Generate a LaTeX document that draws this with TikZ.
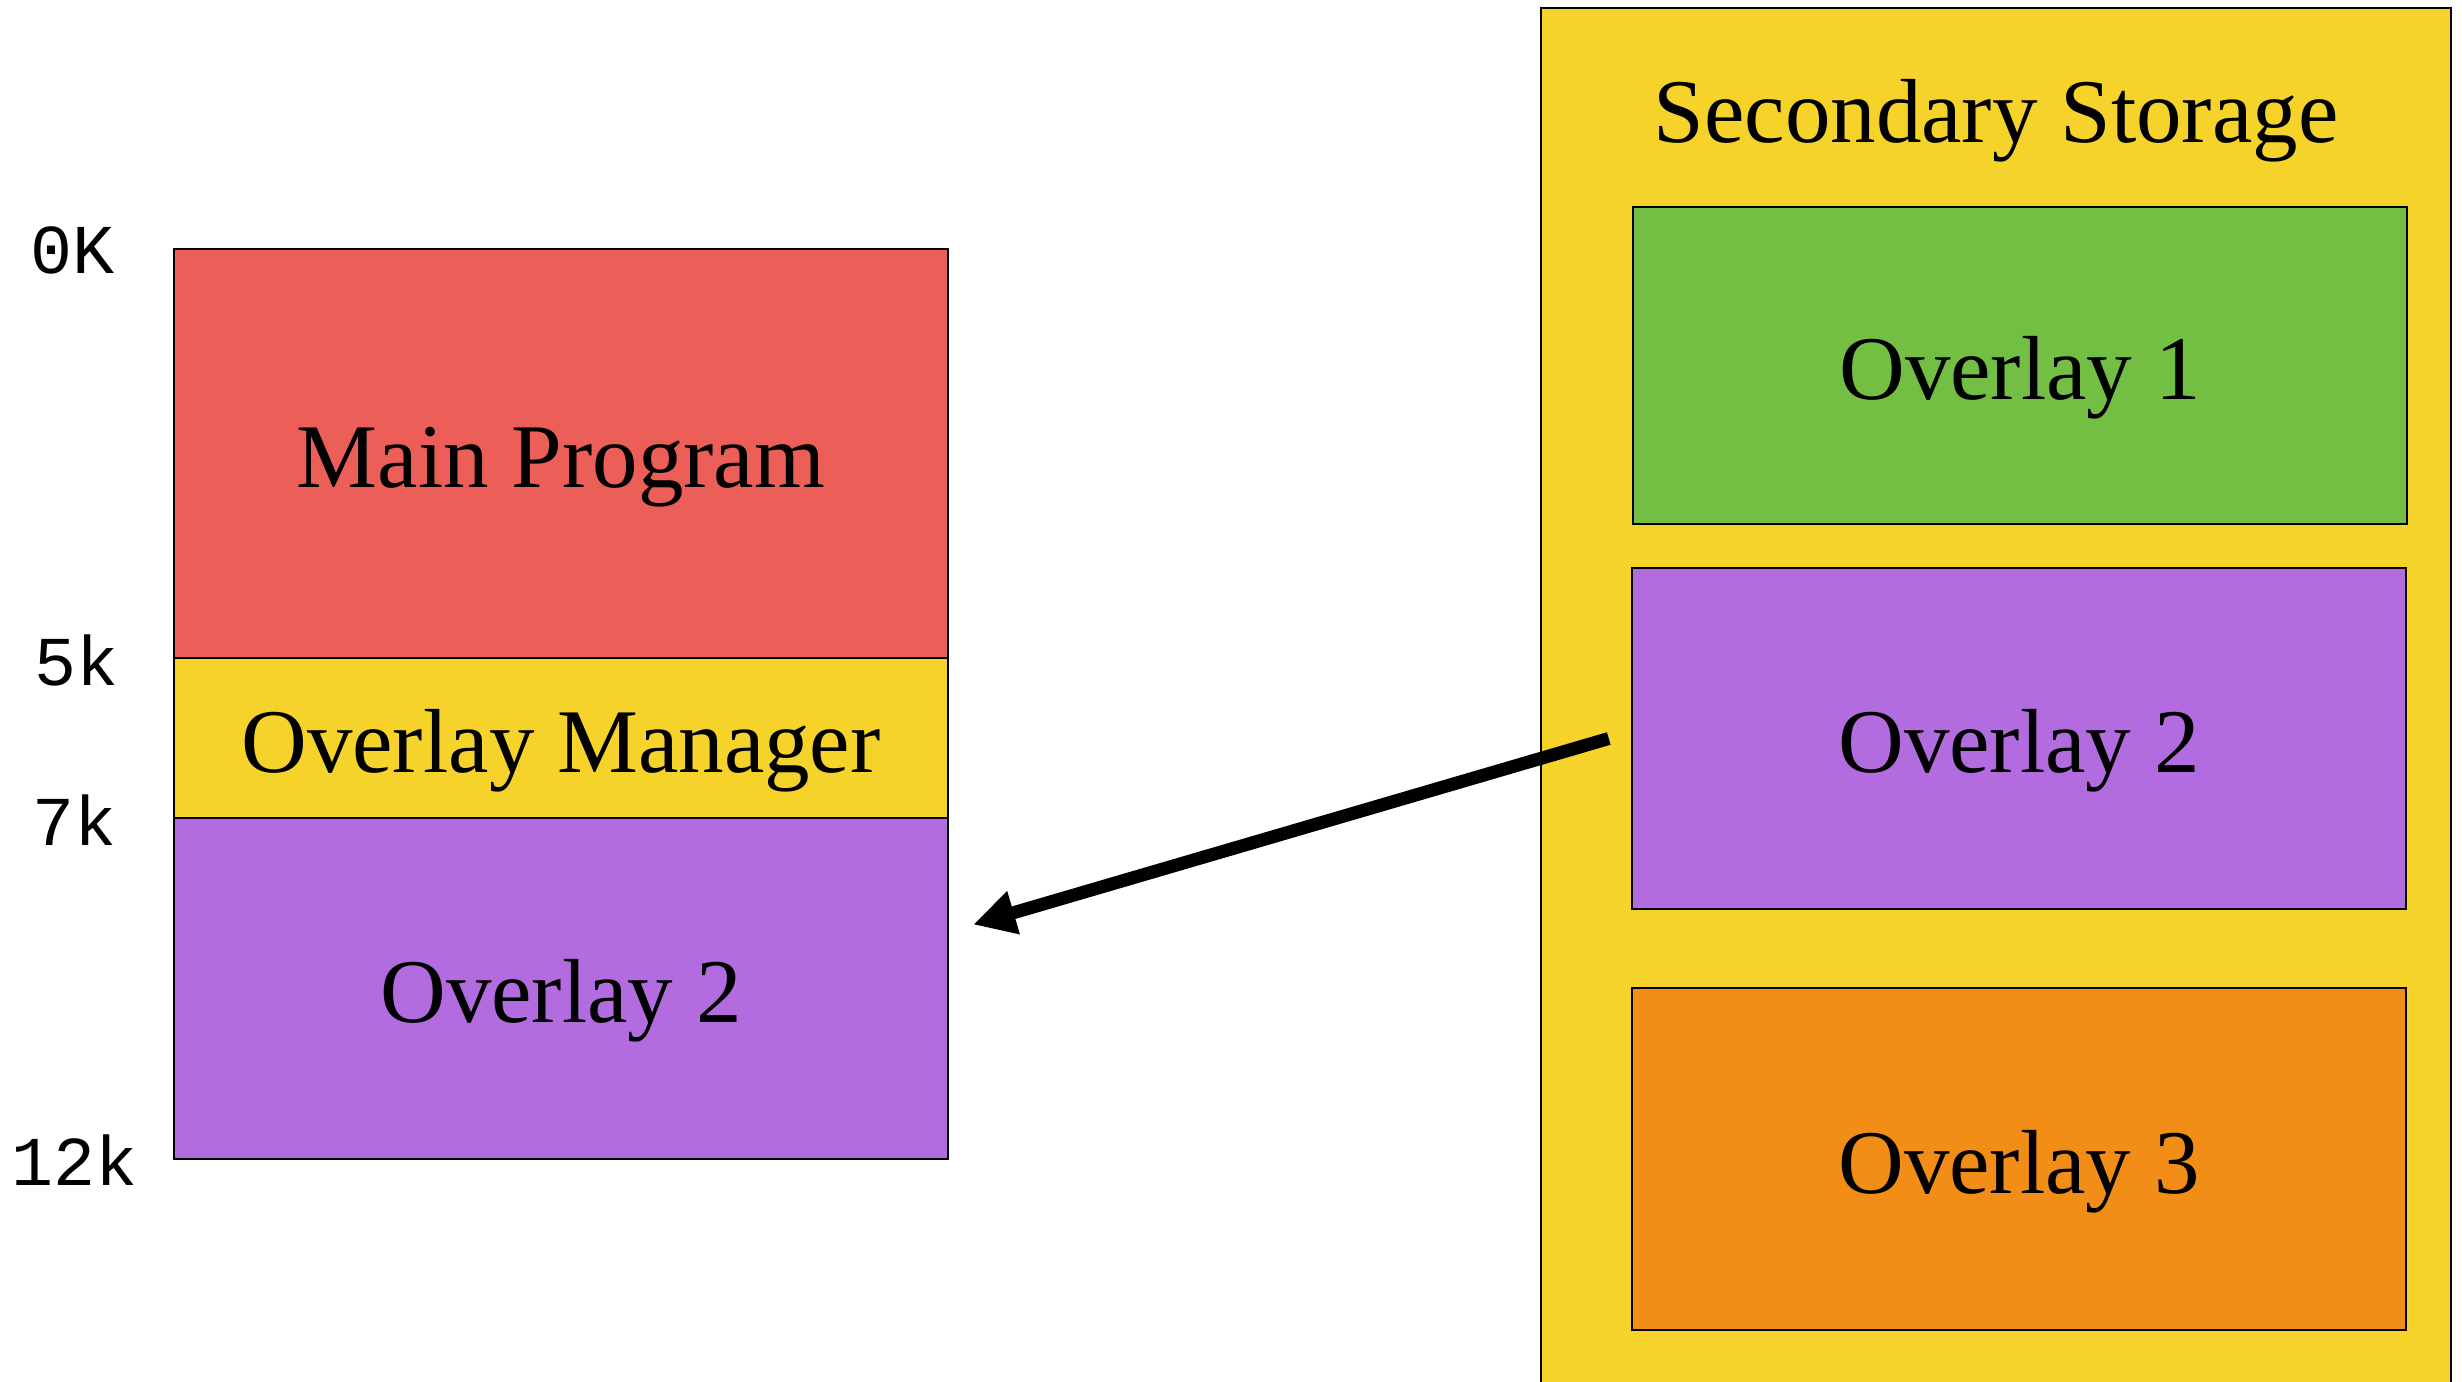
\documentclass[tikz,border=0pt]{standalone}
\usepackage{fontspec}
\setmainfont{Liberation Serif}
\newfontfamily\labfont{Liberation Mono}
\usetikzlibrary{arrows.meta}
\definecolor{cred}{HTML}{EC5E58}
\definecolor{cyellow}{HTML}{F6D32B}
\definecolor{cpurple}{HTML}{B36BE0}
\definecolor{cgreen}{HTML}{72BF44}
\definecolor{corange}{HTML}{F28D18}
\begin{document}
\begin{tikzpicture}[x=1pt,y=-1pt,
  memblock/.style={draw=black,line width=2.5pt,rectangle,inner sep=0pt,
    font=\fontsize{91}{100}\selectfont,text height=68pt,text depth=0pt},
  addr/.style={font=\labfont\fontsize{70}{80}\selectfont,inner sep=0pt,text depth=0pt},
  bigarrow/.style={line width=13pt,-{Triangle[length=42pt,width=42pt]}}]
\useasboundingbox (0,0) rectangle (2462,1381);
% left memory stack
\node[memblock,fill=cred,minimum width=774pt,minimum height=409pt] (main) at (561,453.5) {Main Program};
\node[memblock,fill=cyellow,minimum width=774pt,minimum height=160pt] (mgr) at (561,738) {Overlay Manager};
\node[memblock,fill=cpurple,minimum width=774pt,minimum height=341pt] (ovl) at (561,988.5) {Overlay 2};
% address labels
\node[addr] (a0) at (73,250) {0K};
\node[addr] (a5) at (77,660) {5k};
\node[addr] (a7) at (75,820) {7k};
\node[addr] (a12) at (75,1160) {12k};
% secondary storage
\node[draw=black,line width=2pt,fill=cyellow,rectangle,inner sep=0pt,
  minimum width=910pt,minimum height=1400pt] (store) at (1996,708) {};
\node[font=\fontsize{91}{100}\selectfont,inner sep=0pt,anchor=base] (title) at (1996,142) {Secondary Storage};
\node[memblock,fill=cgreen,minimum width=774pt,minimum height=317pt] (ov1) at (2020,365.5) {Overlay 1};
\node[memblock,fill=cpurple,minimum width=774pt,minimum height=341pt] (ov2) at (2019,738.5) {Overlay 2};
\node[memblock,fill=corange,minimum width=774pt,minimum height=342pt] (ov3) at (2019,1159) {Overlay 3};
% arrow
\draw[bigarrow] ([xshift=-22pt]ov2.west) -- ([xshift=24pt,yshift=64pt]ovl.east);
\end{tikzpicture}
\end{document}
